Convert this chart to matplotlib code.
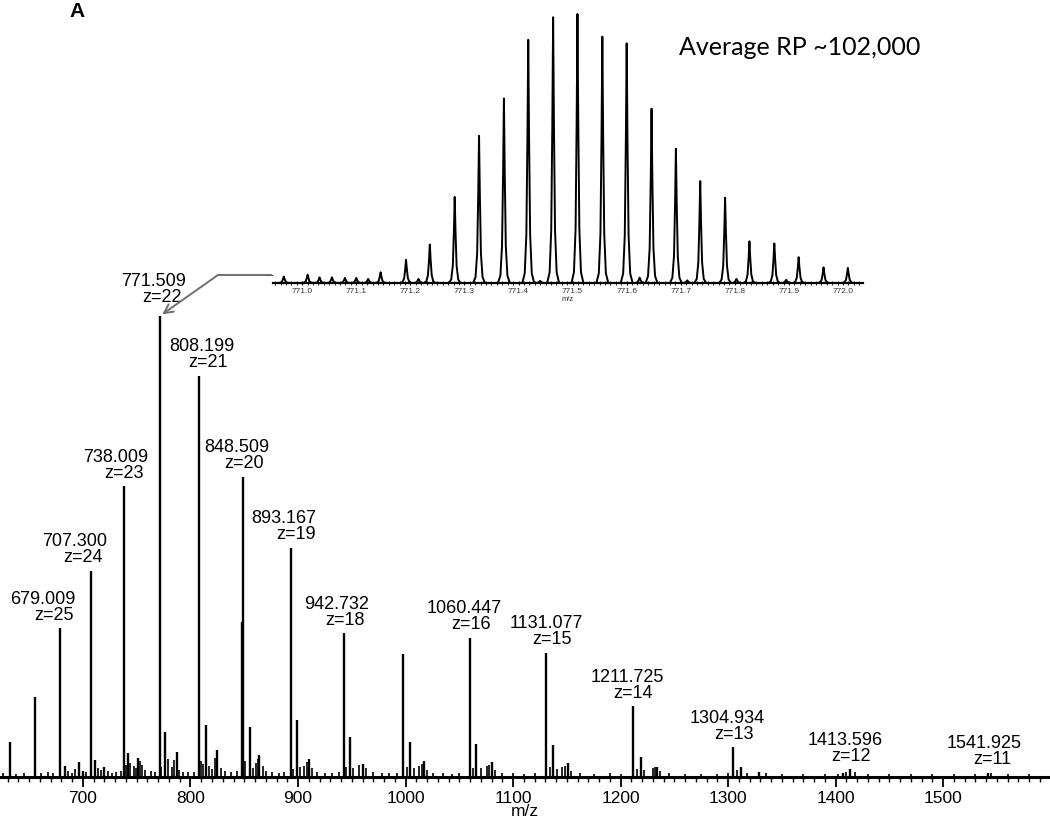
import matplotlib
matplotlib.use('Agg')
import matplotlib.pyplot as plt
import numpy as np
from matplotlib.ticker import MultipleLocator, FormatStrFormatter
from matplotlib.lines import Line2D

plt.rcParams['font.family'] = ['Liberation Sans', 'DejaVu Sans']

# labelled charge states (m/z, charge, relative intensity %)
label_mz = [679.009, 707.300, 738.009, 771.509, 808.199, 848.509, 893.167,
            942.732, 1060.447, 1131.077, 1211.725, 1304.934, 1413.596, 1541.925]
label_z = [25, 24, 23, 22, 21, 20, 19, 18, 16, 15, 14, 13, 12, 11]
label_int = [32.3, 44.7, 63.1, 100.0, 87.0, 65.1, 49.7,
             31.2, 30.2, 26.9, 15.4, 6.5, 1.7, 0.9]

# other visible peaks
other_mz = [632.0, 655.3, 847.9, 997.8,
            683, 696, 700, 711, 720, 742, 751, 776, 787, 814, 825, 855, 864,
            899, 910, 948, 960, 1004, 1017, 1066, 1080, 1137, 1151, 1219, 1234,
            1312, 1329, 1407]
other_int = [7.6, 17.4, 33.6, 26.7,
             2.4, 3.3, 1.3, 3.7, 2.2, 5.2, 4.1, 9.8, 5.4, 11.3, 5.9, 10.8, 4.8,
             12.4, 3.9, 8.7, 2.8, 7.6, 3.5, 7.2, 3.3, 6.9, 3.0, 4.3, 2.2,
             2.2, 1.1, 0.9]

# baseline grass
grass_mz = [626, 638, 645, 661, 667, 672, 686, 690, 693, 703, 714, 717, 723,
            727, 731, 735, 740, 744, 747, 749, 753, 755, 758, 763, 767, 773,
            779, 783, 785, 789, 793, 798, 803, 810, 812, 817, 820, 823, 828,
            832, 838, 843, 851, 858, 861, 863, 867, 870, 876, 882, 887, 895,
            902, 906, 908, 913, 918, 925, 932, 938, 945, 951, 957, 963, 970,
            978, 985, 992, 1001, 1008, 1013, 1015, 1020, 1026, 1035, 1043,
            1050, 1063, 1070, 1076, 1078, 1083, 1090, 1100, 1110, 1120, 1134,
            1141, 1146, 1148, 1154, 1162, 1175, 1190, 1200, 1215, 1222, 1230,
            1232, 1237, 1245, 1260, 1275, 1290, 1300, 1308, 1318, 1335, 1350,
            1370, 1390, 1402, 1410, 1418, 1430, 1450, 1470, 1490, 1510, 1530,
            1545, 1560, 1580]
grass_int = [0.8, 0.7, 0.9, 0.8, 1.0, 0.9, 1.2, 0.9, 1.8, 1.0, 2.0, 1.6, 1.4,
             0.9, 1.0, 1.2, 2.6, 3.1, 2.4, 2.0, 3.4, 2.5, 1.6, 1.2, 1.0, 2.2,
             4.0, 2.1, 3.6, 1.5, 1.0, 1.1, 1.0, 3.5, 2.8, 2.4, 1.8, 4.2, 2.0,
             1.2, 1.0, 1.3, 3.5, 2.0, 3.0, 3.8, 2.4, 1.2, 1.0, 0.9, 1.1, 1.8,
             2.1, 2.3, 3.2, 2.0, 1.0, 0.8, 0.9, 1.0, 2.1, 2.0, 2.5, 1.9, 1.0,
             0.8, 0.9, 0.8, 2.2, 2.0, 2.4, 2.8, 1.6, 0.9, 0.8, 0.7,
             0.8, 2.0, 1.9, 2.3, 2.6, 1.5, 0.9, 0.8, 0.7, 0.8, 2.1,
             1.8, 2.2, 2.4, 1.4, 0.8, 0.7, 0.8, 0.7, 1.8, 1.6, 2.0,
             2.2, 1.2, 0.8, 0.7, 0.6, 0.7, 0.8, 1.5, 0.9, 0.9, 0.6,
             0.6, 0.7, 0.6, 1.0, 1.1, 0.6, 0.6, 0.7, 0.6, 0.6, 0.7,
             0.8, 0.7, 0.6]

# label offsets in pixels (number line dx, z line dx)
num_dx = [-18, -16, -8, -6, 3, -6, -7, -7, -6, 0, -6, -6, -5, -4]
z_dx = [-6, -8, 0, 2, 9, 1, 5, 1, 1, 6, 0, 1, 1, 4]

# inset isotope cluster of the z=22 ion
iso_mz = [770.966, 771.010, 771.032, 771.055, 771.079, 771.100, 771.122,
          771.145, 771.192, 771.215, 771.236, 771.282, 771.327, 771.373,
          771.418, 771.440, 771.464, 771.509, 771.555, 771.600, 771.624,
          771.646, 771.691, 771.712, 771.736, 771.782, 771.803, 771.827,
          771.873, 771.895, 771.918, 771.964, 772.009]
iso_int = [0.024, 0.031, 0.021, 0.021, 0.019, 0.019, 0.015,
           0.040, 0.086, 0.015, 0.143, 0.320, 0.547, 0.686,
           0.904, 0.008, 0.988, 1.000, 0.916, 0.891, 0.020,
           0.648, 0.499, 0.010, 0.379, 0.317, 0.015, 0.155,
           0.147, 0.012, 0.096, 0.058, 0.056]

W, H = 1050, 824
fig = plt.figure(figsize=(W / 100, H / 100), dpi=100)
ax = fig.add_axes([0, 47 / H, 1, 757 / H])
ax.set_xlim(622.8, 1599.5)
ax.set_ylim(0, 164.2)

ax.vlines(label_mz + other_mz, 0, label_int + other_int, color='black', lw=1.7)
ax.vlines(grass_mz, 0, grass_int, color='black', lw=1.2)

for s in ['left', 'right', 'top']:
    ax.spines[s].set_visible(False)
ax.spines['bottom'].set_linewidth(2.2)
ax.set_yticks([])
ax.xaxis.set_major_locator(MultipleLocator(100))
ax.xaxis.set_minor_locator(MultipleLocator(10))
ax.tick_params(axis='x', which='major', length=7, width=1.3, direction='out',
               labelsize=12.5, pad=3)
ax.tick_params(axis='x', which='minor', length=3.5, width=1.0, direction='out')
ax.set_xlabel('m/z', fontsize=12.5, labelpad=-1.5)

px = 0.72  # points per pixel
for i in range(len(label_mz)):
    gap = 14 if label_z[i] == 22 else 8.5
    ax.annotate('z=%d' % label_z[i], xy=(label_mz[i], label_int[i]),
                xytext=(z_dx[i] * px, gap * px), textcoords='offset points',
                ha='center', va='baseline', fontsize=13)
    ax.annotate('%.3f' % label_mz[i], xy=(label_mz[i], label_int[i]),
                xytext=(num_dx[i] * px, (gap + 16) * px), textcoords='offset points',
                ha='center', va='baseline', fontsize=13)

# callout arrow to the inset
fig.add_artist(Line2D([218 / W, 271 / W], [1 - 275 / H, 1 - 275 / H],
                      color='#707070', lw=1.4))
ax.annotate('', xy=(771.509, 100), xycoords='data',
            xytext=(218 / W, 1 - 275 / H), textcoords='figure fraction',
            arrowprops=dict(arrowstyle='->', color='#707070', lw=1.4,
                            shrinkA=0, shrinkB=2, mutation_scale=16))

# inset
inax = fig.add_axes([273 / W, 1 - 283 / H, 590 / W, 269 / H])
inax.set_xlim(770.946, 772.037)
inax.set_ylim(0, 1.0)
shape_dx = [-0.011, -0.0065, -0.0035, -0.0015, 0.0, 0.0015, 0.0035, 0.0065, 0.011]
shape_fr = [0.0, 0.04, 0.2, 0.6, 1.0, 0.6, 0.2, 0.04, 0.0]
xs, ys = [], []
for c, h in zip(iso_mz, iso_int):
    for d, f in zip(shape_dx, shape_fr):
        xs.append(c + d)
        ys.append(h * f)
inax.plot(xs, ys, color='black', lw=1.4, clip_on=False)
for s in ['left', 'right', 'top']:
    inax.spines[s].set_visible(False)
inax.spines['bottom'].set_linewidth(1.6)
inax.set_yticks([0.03])
inax.set_yticklabels([])
inax.tick_params(axis='y', length=6, width=0.8, color='#444444')
inax.xaxis.set_major_locator(MultipleLocator(0.1))
inax.xaxis.set_minor_locator(MultipleLocator(0.01))
inax.xaxis.set_major_formatter(FormatStrFormatter('%.1f'))
inax.tick_params(axis='x', which='major', length=3.5, width=0.8, direction='inout',
                 labelsize=6, pad=1.5, labelcolor='#333333')
inax.tick_params(axis='x', which='minor', length=2.2, width=0.6, direction='inout')
inax.set_xlabel('m/z', fontsize=5.5, labelpad=1, color='#333333')
inax.patch.set_alpha(0)

fig.text(679 / W, 1 - 55 / H, 'Average RP ~102,000', fontsize=18,
         family=['Lato', 'DejaVu Sans'], va='baseline', ha='left')
fig.text(77 / W, 1 - 17 / H, 'A', fontsize=15, fontweight='bold',
         ha='center', va='baseline')

fig.savefig('out.png', dpi=100)
